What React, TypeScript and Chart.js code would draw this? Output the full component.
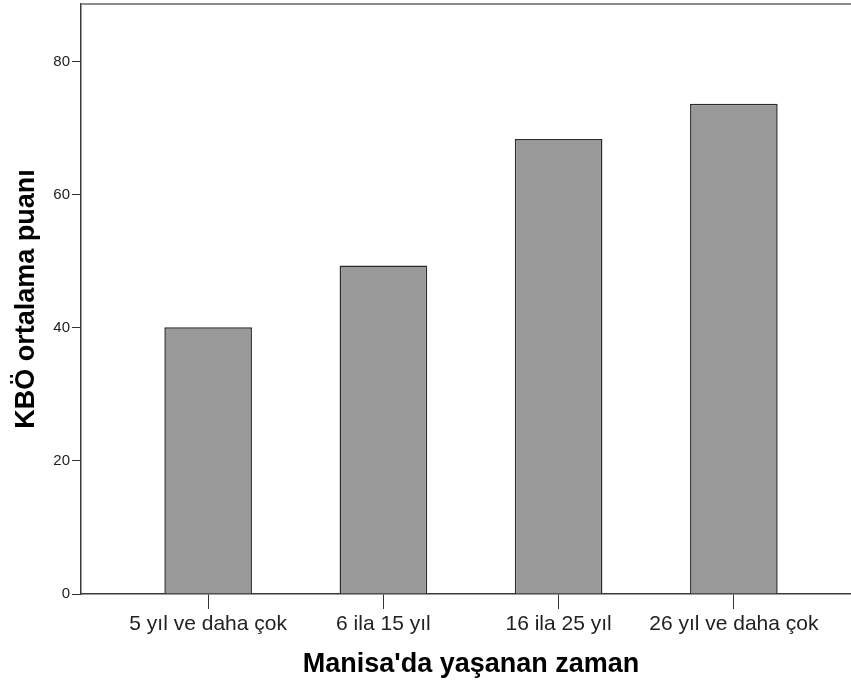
import React, { useEffect, useRef } from "react";
import { Chart, registerables } from "chart.js";

Chart.register(...registerables);

const CATEGORIES = ["5 yıl ve daha çok", "6 ila 15 yıl", "16 ila 25 yıl", "26 yıl ve daha çok"];
const MEAN_SCORES = [40.1, 49.4, 68.4, 73.7];
const Y_TICKS = [0, 20, 40, 60, 80];
const X_TITLE = "Manisa'da yaşanan zaman";
const Y_TITLE = "KBÖ ortalama puanı";

const FONT = "'Liberation Sans', Arial, Helvetica, sans-serif";

const topFrame = {
  id: "topFrame",
  afterDraw(chart: any) {
    const { ctx, chartArea } = chart;
    ctx.save();
    ctx.strokeStyle = "#8c8c8c";
    ctx.lineWidth = 2;
    ctx.beginPath();
    ctx.moveTo(chartArea.left, chartArea.top);
    ctx.lineTo(chartArea.right, chartArea.top);
    ctx.stroke();
    ctx.restore();
  },
};

export default function App() {
  const ref = useRef<HTMLCanvasElement>(null);

  useEffect(() => {
    document.body.style.overflow = "hidden";
    const canvas = ref.current;
    if (!canvas) return;
    const chart = new Chart(canvas, {
      type: "bar",
      data: {
        datasets: [
          {
            data: MEAN_SCORES.map((v, i) => ({ x: i, y: v })),
            backgroundColor: "#999999",
            borderColor: "#2a2a2a",
            borderWidth: 1.5,
            borderSkipped: "bottom",
            categoryPercentage: 1,
            barPercentage: 0.5,
          },
        ],
      },
      options: {
        animation: false,
        responsive: false,
        devicePixelRatio: 1,
        layout: { padding: { top: 4, left: 0, right: 0, bottom: 0 } },
        plugins: {
          legend: { display: false },
          tooltip: { enabled: false },
        },
        scales: {
          x: {
            type: "linear",
            offset: false,
            min: -0.7256,
            max: 3.7256,
            afterBuildTicks(scale: any) {
              scale.ticks = CATEGORIES.map((_, i) => ({ value: i }));
            },
            afterFit(scale: any) {
              scale.height = 90;
              scale.paddingLeft = 0;
              scale.paddingRight = 0;
            },
            grid: {
              offset: false,
              drawOnChartArea: false,
              drawTicks: true,
              tickLength: 15,
              color: "#333333",
              lineWidth: 1,
            },
            border: { display: true, color: "#3a3a3a", width: 1.5 },
            ticks: {
              padding: 3,
              color: "#222222",
              font: { family: FONT, size: 21 },
              maxRotation: 0,
              autoSkip: false,
              callback: (v: any) => CATEGORIES[Math.round(Number(v))] ?? "",
            },
            title: {
              display: true,
              text: X_TITLE,
              color: "#000000",
              font: { family: FONT, size: 27, weight: "bold" },
              padding: { top: 0, bottom: 3 },
            },
          },
          y: {
            type: "linear",
            min: 0,
            max: 88.7,
            afterBuildTicks(scale: any) {
              scale.ticks = Y_TICKS.map((v) => ({ value: v }));
            },
            afterFit(scale: any) {
              scale.width = 81;
              scale.paddingTop = 0;
              scale.paddingBottom = 0;
            },
            grid: {
              drawOnChartArea: false,
              drawTicks: true,
              tickLength: 9,
              color: "#333333",
              lineWidth: 1,
            },
            border: { display: true, color: "#3a3a3a", width: 1.5 },
            ticks: {
              padding: 2,
              color: "#222222",
              font: { family: FONT, size: 15 },
            },
            title: {
              display: true,
              text: Y_TITLE,
              color: "#000000",
              font: { family: FONT, size: 27, weight: "bold" },
              padding: { top: 10, bottom: 0 },
            },
          },
        },
      },
      plugins: [topFrame],
    });
    return () => {
      chart.destroy();
    };
  }, []);

  return (
    <div style={{ position: "fixed", left: 0, top: 0, width: 861, height: 684, background: "#ffffff" }}>
      <canvas ref={ref} width={861} height={684} style={{ display: "block" }} />
    </div>
  );
}
